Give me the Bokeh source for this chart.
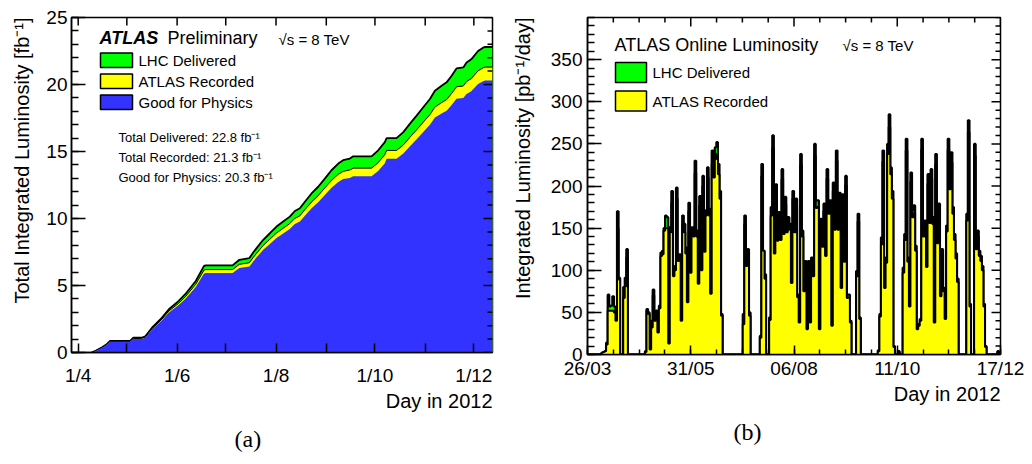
import math
from bokeh.plotting import figure
from bokeh.layouts import row
from bokeh.models import Range1d, FixedTicker, Label, Title, ColumnDataSource
from bokeh.embed import file_html
from bokeh.resources import INLINE

FONT = "Liberation Sans"
GREEN = "#00ff00"
YELLOW = "#ffff00"
BLUE = "#3333ff"

# ---------------------------------------------------------------------------
# (a) Cumulative integrated luminosity [fb^-1] versus day of year 2012
# ---------------------------------------------------------------------------
cum_doy = [100.3, 103.0, 106.5, 109.6, 111.7, 124.0, 126.0, 131.0, 133.4, 137.5,
           143.7, 147.9, 154.0, 158.0, 164.5, 169.6, 170.7, 187.2, 191.4, 197.6,
           199.7, 202.0, 206.1, 210.2, 214.3, 218.4, 222.5, 225.6, 228.7, 231.8,
           235.9, 240.0, 244.1, 248.2, 252.4, 255.4, 259.5, 261.6, 272.9, 277.0,
           281.1, 282.2, 288.3, 292.5, 296.5, 300.7, 304.8, 308.9, 312.0, 316.1,
           319.2, 322.3, 325.3, 329.5, 331.5, 334.4, 338.6, 341.7, 343.0, 347.5]
cum_delivered = [0.00, 0.15, 0.37, 0.62, 0.87, 0.87, 1.10, 1.10, 1.20, 1.85,
                 2.60, 3.23, 3.85, 4.35, 5.34, 6.46, 6.50, 6.50, 6.92, 7.05,
                 7.42, 7.79, 8.41, 8.90, 9.40, 9.77, 10.14, 10.56, 10.76, 11.25,
                 11.87, 12.37, 12.98, 13.60, 14.10, 14.35, 14.47, 14.64, 14.64, 15.09,
                 15.70, 16.00, 16.00, 16.45, 17.06, 17.68, 18.30, 18.92, 19.54, 19.91,
                 20.16, 20.65, 21.20, 21.27, 21.64, 21.88, 22.50, 22.75, 22.80, 22.80]
cum_recorded = [0.00, 0.14, 0.35, 0.59, 0.83, 0.83, 1.05, 1.05, 1.14, 1.77,
                2.49, 3.09, 3.68, 4.15, 5.09, 6.15, 6.19, 6.19, 6.58, 6.70,
                7.05, 7.40, 7.99, 8.45, 8.92, 9.27, 9.62, 10.01, 10.20, 10.66,
                11.24, 11.71, 12.28, 12.85, 13.30, 13.52, 13.62, 13.76, 13.76, 14.17,
                14.77, 15.08, 15.08, 15.49, 16.05, 16.62, 17.19, 17.75, 18.32, 18.65,
                18.88, 19.33, 19.83, 19.89, 20.22, 20.44, 21.02, 21.25, 21.30, 21.30]
cum_good = [0.00, 0.13, 0.34, 0.57, 0.80, 0.80, 1.01, 1.01, 1.10, 1.71,
            2.40, 2.98, 3.55, 4.00, 4.89, 5.90, 5.94, 5.94, 6.31, 6.42,
            6.76, 7.10, 7.66, 8.10, 8.55, 8.88, 9.21, 9.59, 9.77, 10.21,
            10.76, 11.21, 11.76, 12.30, 12.73, 12.94, 13.03, 13.16, 13.16, 13.55,
            14.13, 14.46, 14.46, 14.85, 15.38, 15.92, 16.46, 16.99, 17.53, 17.84,
            18.05, 18.47, 18.94, 18.99, 19.30, 19.50, 20.04, 20.25, 20.30, 20.30]
assert len(cum_doy) == len(cum_delivered) == len(cum_recorded) == len(cum_good)

month_doy = [92, 122, 153, 183, 214, 245, 275, 306, 336]
month_labels = ["1/4", "", "1/6", "", "1/8", "", "1/10", "", "1/12"]

# ---------------------------------------------------------------------------
# (b) Delivered / recorded luminosity per day [pb^-1], one bin per day
#     starting 26 March 2012 (day of year 86)
# ---------------------------------------------------------------------------
first_doy = 86
daily_delivered = (
    [0] * 9
    + [2, 3, 4, 14, 71, 57, 58, 69, 57, 42, 170, 91, 0, 0, 80, 91, 125]
    + [0] * 11
    + [4, 54, 50, 10, 40, 77, 42, 52, 28, 58,
       121, 123, 150, 165, 163, 14, 151, 194, 95, 105,
       198, 111, 119, 42, 165, 155, 127, 67, 180, 99,
       151, 145, 230, 147, 87, 188, 105, 212, 127, 171,
       222, 173, 75, 242, 222, 246, 252, 226, 194, 48]
    + [0] * 13
    + [48, 165, 111, 125, 50]
    + [0] * 6
    + [22, 226, 123, 95]
    + [0] * 2
    + [44, 175, 260, 127, 202, 143, 169, 143, 220, 150,
       187, 151, 163, 155, 89, 194, 151, 185, 71, 40,
       238, 147, 79, 111, 32, 111, 40, 115, 99, 250,
       183, 183, 32, 161, 135, 179, 123, 220, 175, 183,
       36, 204, 155, 242, 155, 192, 83, 190, 115, 212,
       71, 71, 40]
    + [0] * 3
    + [99, 167, 44]
    + [0] * 11
    + [5, 48, 139, 242, 83, 115, 250, 285, 222, 194, 10]
    + [0, 0, 4, 0, 0]
    + [103, 143, 256, 115, 60, 216, 171, 177, 129, 32,
       36, 42, 256, 147, 159, 109, 214, 163, 220, 163,
       40, 238, 139, 179, 73, 125, 79, 44, 153, 256,
       204, 240, 175, 143]
    + [120, 90]
    + [0] * 5
    + [167, 278, 60]
    + [0] * 2
    + [250, 131, 147, 123, 117, 105, 60, 10]
    + [0] * 7
    + [4, 0]
)
daily_recorded = (
    [0] * 9
    + [2, 3, 4, 12, 52, 52, 52, 52, 50, 40, 150, 89, 0, 0, 67, 81, 115]
    + [0] * 11
    + [3, 52, 48, 6, 32, 70, 40, 50, 26, 55,
       117, 119, 147, 150, 150, 13, 145, 180, 93, 100,
       185, 111, 112, 40, 155, 145, 120, 62, 170, 97,
       145, 140, 215, 140, 84, 177, 100, 200, 122, 165,
       210, 165, 72, 226, 210, 232, 238, 214, 185, 46]
    + [0] * 13
    + [36, 155, 105, 118, 46]
    + [0] * 6
    + [20, 212, 123, 90]
    + [0] * 2
    + [41, 165, 245, 120, 190, 135, 160, 136, 208, 143,
       178, 145, 155, 148, 85, 185, 145, 176, 68, 38,
       225, 140, 75, 105, 30, 105, 38, 108, 93, 236,
       174, 175, 30, 153, 128, 170, 117, 209, 167, 175,
       34, 194, 148, 230, 148, 182, 79, 180, 110, 201,
       67, 68, 38]
    + [0] * 3
    + [93, 158, 42]
    + [0] * 11
    + [4, 45, 131, 229, 79, 109, 238, 270, 214, 185, 9]
    + [0, 0, 3, 0, 0]
    + [97, 136, 242, 110, 57, 205, 163, 168, 123, 30,
       34, 40, 243, 140, 151, 104, 203, 156, 209, 155,
       38, 226, 132, 170, 69, 119, 75, 42, 146, 243,
       196, 228, 167, 136]
    + [114, 86]
    + [0] * 5
    + [159, 264, 57]
    + [0] * 2
    + [236, 125, 140, 117, 111, 100, 57, 9]
    + [0] * 7
    + [3, 0]
)
assert len(daily_delivered) == len(daily_recorded) == 266

day_ticks = [86, 152.5, 219, 285.5, 352]
day_labels = ["26/03", "31/05", "06/08", "11/10", "17/12"]


# ---------------------------------------------------------------------------
# helpers
# ---------------------------------------------------------------------------
def style_axis(ax, tick_in, minor_in, standoff):
    ax.axis_line_color = "black"
    ax.axis_line_width = 1.5
    ax.major_tick_in = tick_in
    ax.major_tick_out = 0
    ax.minor_tick_in = minor_in
    ax.minor_tick_out = 0
    ax.major_tick_line_color = "black"
    ax.major_tick_line_width = 1.5
    ax.minor_tick_line_color = "black"
    ax.minor_tick_line_width = 1.5
    ax.major_label_text_font = FONT
    ax.major_label_text_color = "black"
    ax.major_label_text_font_size = "19px"
    ax.major_label_standoff = standoff


def mirror_ticks(p, side, values, length):
    """Inward tick marks along the top or right edge of the frame."""
    if side == "above":
        p.ray(x=values, y=[p.y_range.end] * len(values), length=length,
              length_units="screen", angle=-math.pi / 2,
              line_color="black", line_width=1.5)
    else:
        p.ray(x=[p.x_range.end] * len(values), y=values, length=length,
              length_units="screen", angle=math.pi,
              line_color="black", line_width=1.5)


def make_fig(frame, borders, xr, yr):
    left, top, width, height = frame
    bl, br, bt, bb = borders
    p = figure(frame_width=width, frame_height=height,
               min_border_left=bl, min_border_right=br,
               min_border_top=bt, min_border_bottom=bb,
               x_range=xr, y_range=yr,
               output_backend="svg", toolbar_location=None,
               background_fill_color="white", border_fill_color="white")
    p.xgrid.visible = False
    p.ygrid.visible = False
    p.outline_line_color = "black"
    p.outline_line_width = 1.5
    return p


def add_title(p, side, text, size, align, standoff, offset=0, valign="middle",
              font=FONT):
    p.add_layout(Title(text=text, align=align, vertical_align=valign,
                       standoff=standoff, offset=offset,
                       text_font=font, text_font_size=f"{size}px",
                       text_font_style="normal", text_color="black"), side)


def add_text(p, frame, cx, cy, text, size, style="normal", align="left"):
    left, top, width, height = frame
    p.add_layout(Label(x=cx - left, y=top + height - cy,
                       x_units="screen", y_units="screen",
                       text=text, text_font=FONT, text_font_size=f"{size}px",
                       text_font_style=style, text_color="black",
                       text_align=align, text_baseline="middle"))


def add_swatch(p, frame, cx0, cy0, cx1, cy1, color):
    left, top, width, height = frame
    xr, yr = p.x_range, p.y_range

    def fx(cx):
        return xr.start + (cx - left) / width * (xr.end - xr.start)

    def fy(cy):
        return yr.start + (top + height - cy) / height * (yr.end - yr.start)

    p.quad(left=[fx(cx0)], right=[fx(cx1)], top=[fy(cy0)], bottom=[fy(cy1)],
           fill_color=color, line_color="black", line_width=1.5)


def step_path(edges, values):
    """Closed outline of a histogram: up from zero, across every bin, back down."""
    xs, ys = [edges[0]], [0]
    for i, v in enumerate(values):
        xs += [edges[i], edges[i + 1]]
        ys += [v, v]
    xs.append(edges[-1])
    ys.append(0)
    return xs, ys


# ---------------------------------------------------------------------------
# panel (a)
# ---------------------------------------------------------------------------
FA = (70, 17, 421, 335)  # frame left, top, width, height on the canvas
pa = make_fig(FA, (70, 5, 17, 112), Range1d(87.87, 347.5), Range1d(0, 25))

src_a = ColumnDataSource(dict(x=cum_doy, d=cum_delivered, r=cum_recorded, g=cum_good))
pa.varea(x="x", y1=0, y2="d", source=src_a, fill_color=GREEN)
pa.line(x="x", y="d", source=src_a, line_color="black", line_width=1.8)
pa.varea(x="x", y1=0, y2="r", source=src_a, fill_color=YELLOW)
pa.line(x="x", y="r", source=src_a, line_color="black", line_width=1.0)
pa.varea(x="x", y1=0, y2="g", source=src_a, fill_color=BLUE)

ya_major = [0, 5, 10, 15, 20, 25]
ya_minor = list(range(26))
pa.xaxis.ticker = FixedTicker(ticks=month_doy, minor_ticks=[])
pa.yaxis.ticker = FixedTicker(ticks=ya_major, minor_ticks=ya_minor)
style_axis(pa.xaxis[0], 9, 0, standoff=12)
pa.xaxis[0].major_label_overrides = {d: lab for d, lab in zip(month_doy, month_labels)}
style_axis(pa.yaxis[0], 14, 7, standoff=4)
mirror_ticks(pa, "above", month_doy, 8)
mirror_ticks(pa, "right", ya_major, 9)
mirror_ticks(pa, "right", [v for v in ya_minor if v not in ya_major], 5)

add_title(pa, "left", "Total Integrated Luminosity [fb\u207b\u00b9]", 20, "right", 19)
add_title(pa, "below", "Day in 2012", 20, "right", 0)
add_title(pa, "below", "(a)", 24, "left", 22, offset=163, valign="bottom",
          font="Liberation Serif")

add_text(pa, FA, 98, 37, "ATLAS", 18, style="bold italic")
add_text(pa, FA, 166, 37, "Preliminary", 18)
add_text(pa, FA, 277, 39, "\u221as = 8 TeV", 15)
legend_a = [("LHC Delivered", GREEN), ("ATLAS Recorded", YELLOW), ("Good for Physics", BLUE)]
for i, (name, col) in enumerate(legend_a):
    y0 = 52.5 + i * 21
    add_swatch(pa, FA, 99, y0, 131, y0 + 14.5, col)
    add_text(pa, FA, 137, y0 + 7.5, name, 15)
totals = [("Total Delivered", cum_delivered[-1]),
          ("Total Recorded", cum_recorded[-1]),
          ("Good for Physics", cum_good[-1])]
for i, (name, val) in enumerate(totals):
    add_text(pa, FA, 117, 137 + i * 20, f"{name}: {val:.1f} fb\u207b\u00b9", 13)

# ---------------------------------------------------------------------------
# panel (b)
# ---------------------------------------------------------------------------
FB = (585, 15, 413, 337)
pb = make_fig(FB, (89, 34, 15, 112), Range1d(86, 352), Range1d(0, 400))

n = len(daily_delivered)
edges = [first_doy + i for i in range(n + 1)]
del_x, del_y = step_path(edges, daily_delivered)
rec_x, rec_y = step_path(edges, daily_recorded)
pb.patch(del_x, del_y, fill_color=GREEN, line_color=None)
pb.line(del_x, del_y, line_color="black", line_width=2.2)
pb.patch(rec_x, rec_y, fill_color=YELLOW, line_color=None)
pb.line(rec_x, rec_y, line_color="black", line_width=2.0)

minor_days = [86 + k * 266 / 16 for k in range(17)]
yb_major = list(range(0, 351, 50))
yb_minor = list(range(0, 401, 10))
pb.xaxis.ticker = FixedTicker(ticks=day_ticks, minor_ticks=minor_days)
pb.yaxis.ticker = FixedTicker(ticks=yb_major, minor_ticks=yb_minor)
style_axis(pb.xaxis[0], 9, 5, standoff=3)
pb.xaxis[0].major_label_overrides = {d: lab for d, lab in zip(day_ticks, day_labels)}
style_axis(pb.yaxis[0], 14, 7, standoff=5)
mirror_ticks(pb, "above", day_ticks, 9)
mirror_ticks(pb, "above", [v for v in minor_days if v not in day_ticks], 5)
mirror_ticks(pb, "right", yb_major, 9)
mirror_ticks(pb, "right", [v for v in yb_minor if v not in yb_major], 5)

add_title(pb, "left", "Integrated Luminosity [pb\u207b\u00b9/day]", 20, "right", 26)
add_title(pb, "below", "Day in 2012", 20, "right", 0)
add_title(pb, "below", "(b)", 24, "left", 22, offset=146, valign="bottom",
          font="Liberation Serif")

add_text(pb, FB, 612, 42, "ATLAS Online Luminosity", 18)
add_text(pb, FB, 840, 43, "\u221as = 8 TeV", 15)
legend_b = [("LHC Delivered", GREEN), ("ATLAS Recorded", YELLOW)]
for i, (name, col) in enumerate(legend_b):
    y0 = 60 + i * 28.5
    add_swatch(pb, FB, 613, y0, 644, y0 + 20, col)
    add_text(pb, FB, 650, y0 + 10, name, 15)

layout = row(pa, pb)
open("out.html", "w").write(file_html(layout, INLINE))
